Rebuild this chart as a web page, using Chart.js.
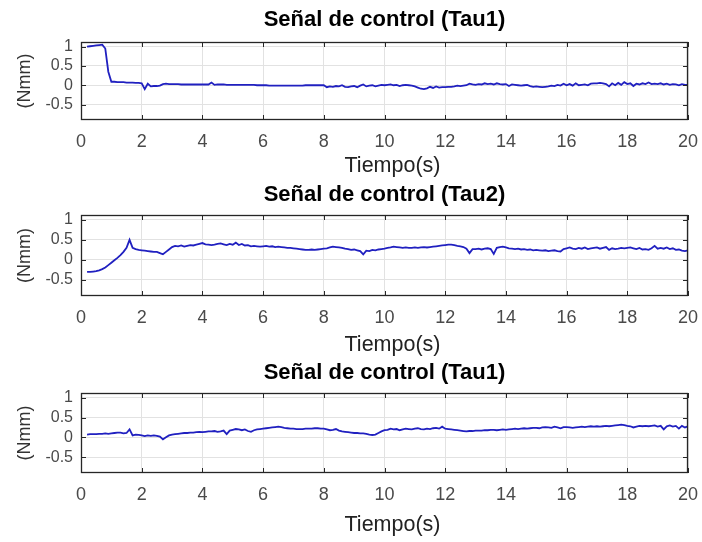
<!DOCTYPE html>
<html>
<head>
<meta charset="utf-8">
<script src="https://cdn.jsdelivr.net/npm/chart.js@4.4.1/dist/chart.umd.min.js"></script>
<style>
  html, body { margin: 0; padding: 0; background: #ffffff; }
  #wrap { position: relative; width: 702px; height: 542px; overflow: hidden; }
  .panel { position: absolute; left: 0; width: 702px; }
  .panel canvas { display: block; }
</style>
</head>
<body>
<div id="wrap">
  <div class="panel" style="top:0px;height:180px"><canvas id="c1" width="702" height="180"></canvas></div>
  <div class="panel" style="top:180px;height:180px"><canvas id="c2" width="702" height="180"></canvas></div>
  <div class="panel" style="top:360px;height:182px"><canvas id="c3" width="702" height="182"></canvas></div>
</div>
<script>
// Sampling: first sample at 0.2 s, one sample every 0.1 s up to 20 s
const T_START = 0.2;
const T_STEP = 0.1;

const xTicks = [0, 2, 4, 6, 8, 10, 12, 14, 16, 18, 20];
const yTicks = [-0.5, 0, 0.5, 1];

const titles = ['Señal de control (Tau1)', 'Señal de control (Tau2)', 'Señal de control (Tau1)'];
const xLabel = 'Tiempo(s)';
const yLabel = '(Nmm)';

// Control torque, joint 1 (Nmm)
const tau1 = [
  1.00, 1.01, 1.02, 1.03, 1.04, 1.05, 0.95, 0.35,
  0.09, 0.09, 0.08, 0.08, 0.08, 0.07, 0.07, 0.07, 0.06, 0.06,
  0.05, -0.10, 0.04, -0.03, -0.02, -0.02, -0.01, 0.03, 0.04, 0.03,
  0.03, 0.03, 0.03, 0.02, 0.02, 0.02, 0.02, 0.02, 0.02, 0.02,
  0.02, 0.02, 0.02, 0.07, 0.01, 0.02, 0.02, 0.02, 0.01, 0.01,
  0.01, 0.01, 0.01, 0.01, 0.01, 0.01, 0.01, 0.01, 0.00, 0.00,
  0.00, 0.00, -0.01, -0.01, -0.01, -0.01, -0.01, -0.01, -0.01, -0.01,
  -0.01, -0.01, -0.01, -0.01, 0.00, 0.00, 0.00, 0.00, 0.00, 0.00,
  0.00, -0.05, -0.03, -0.04, -0.02, -0.03, 0.00, -0.04, -0.05, -0.03,
  -0.02, -0.05, -0.01, 0.02, -0.03, -0.01, 0.00, -0.03, -0.01, 0.01,
  0.00, 0.01, 0.02, 0.00, 0.01, -0.02, 0.00, 0.01, 0.00, -0.01,
  -0.03, -0.06, -0.09, -0.10, -0.08, -0.04, -0.07, -0.03, -0.06, -0.05,
  -0.05, -0.04, -0.04, -0.03, -0.01, -0.02, -0.01, 0.00, 0.04, 0.02,
  0.01, 0.03, 0.02, 0.05, 0.03, 0.04, 0.02, 0.05, 0.03, 0.02,
  0.03, -0.02, 0.02, 0.01, 0.00, -0.01, 0.00, 0.01, -0.02, -0.04,
  -0.03, -0.04, -0.05, -0.04, -0.03, -0.01, -0.02, 0.01, -0.01, 0.04,
  0.00, 0.03, -0.01, 0.05, 0.00, 0.01, 0.02, 0.00, 0.04, 0.05,
  0.05, 0.06, 0.05, 0.03, -0.03, 0.05, 0.00, 0.06, 0.01, 0.08,
  0.03, 0.05, -0.02, 0.04, 0.02, 0.05, 0.03, 0.07, 0.03, 0.04,
  0.03, 0.05, 0.02, 0.04, 0.01, 0.03, 0.02, 0.00, 0.03, 0.01,
  0.01
];

// Control torque, joint 2 (Nmm)
const tau2 = [
  -0.30, -0.30, -0.29, -0.28, -0.26, -0.23, -0.19, -0.13,
  -0.07, -0.01, 0.05, 0.12, 0.20, 0.30, 0.50, 0.30, 0.27, 0.25,
  0.24, 0.23, 0.22, 0.21, 0.20, 0.20, 0.17, 0.14, 0.20, 0.26,
  0.32, 0.35, 0.34, 0.36, 0.33, 0.35, 0.37, 0.36, 0.38, 0.40,
  0.42, 0.39, 0.38, 0.37, 0.38, 0.40, 0.41, 0.39, 0.37, 0.40,
  0.38, 0.43, 0.37, 0.40, 0.36, 0.37, 0.34, 0.35, 0.34, 0.33,
  0.34, 0.35, 0.33, 0.34, 0.32, 0.33, 0.32, 0.31, 0.30, 0.30,
  0.29, 0.28, 0.27, 0.26, 0.25, 0.25, 0.26, 0.25, 0.26, 0.27,
  0.28, 0.29, 0.31, 0.33, 0.32, 0.31, 0.30, 0.28, 0.27, 0.25,
  0.26, 0.24, 0.22, 0.14, 0.23, 0.22, 0.25, 0.24, 0.26, 0.27,
  0.28, 0.30, 0.31, 0.33, 0.32, 0.31, 0.30, 0.31, 0.30, 0.30,
  0.31, 0.30, 0.31, 0.32, 0.31, 0.32, 0.33, 0.34, 0.35, 0.36,
  0.37, 0.38, 0.38, 0.37, 0.35, 0.34, 0.32, 0.28, 0.17, 0.27,
  0.27, 0.28, 0.26, 0.28, 0.29, 0.27, 0.15, 0.30, 0.32, 0.33,
  0.31, 0.29, 0.28, 0.27, 0.28, 0.26, 0.27, 0.25, 0.26, 0.24,
  0.25, 0.24, 0.23, 0.24, 0.22, 0.23, 0.24, 0.22, 0.21, 0.27,
  0.29, 0.31, 0.28, 0.27, 0.30, 0.28, 0.31, 0.27, 0.29, 0.30,
  0.31, 0.28, 0.30, 0.32, 0.25, 0.29, 0.27, 0.28, 0.30, 0.29,
  0.30, 0.31, 0.29, 0.27, 0.30, 0.26, 0.27, 0.25, 0.29, 0.35,
  0.28, 0.30, 0.28, 0.31, 0.27, 0.29, 0.25, 0.26, 0.23, 0.22,
  0.24
];

// Control torque, third panel (Nmm)
const tau3 = [
  0.07, 0.08, 0.08, 0.08, 0.09, 0.09, 0.10, 0.09,
  0.10, 0.11, 0.12, 0.12, 0.10, 0.11, 0.20, 0.05, 0.07, 0.06,
  0.05, 0.03, 0.05, 0.04, 0.05, 0.04, 0.02, -0.05, 0.00, 0.05,
  0.07, 0.08, 0.09, 0.10, 0.11, 0.11, 0.12, 0.12, 0.13, 0.14,
  0.13, 0.14, 0.15, 0.15, 0.16, 0.14, 0.15, 0.17, 0.08, 0.17,
  0.19, 0.21, 0.20, 0.18, 0.20, 0.16, 0.14, 0.18, 0.20, 0.21,
  0.22, 0.23, 0.24, 0.25, 0.26, 0.27, 0.26, 0.24, 0.23, 0.22,
  0.22, 0.21, 0.21, 0.21, 0.22, 0.22, 0.22, 0.23, 0.23, 0.22,
  0.22, 0.20, 0.18, 0.19, 0.21, 0.17, 0.15, 0.14, 0.13, 0.12,
  0.11, 0.11, 0.10, 0.10, 0.09, 0.07, 0.06, 0.07, 0.11, 0.15,
  0.18, 0.19, 0.22, 0.20, 0.21, 0.18, 0.20, 0.22, 0.21, 0.20,
  0.22, 0.23, 0.21, 0.20, 0.22, 0.21, 0.23, 0.24, 0.22, 0.27,
  0.22, 0.21, 0.20, 0.19, 0.18, 0.17, 0.16, 0.15, 0.16, 0.16,
  0.17, 0.17, 0.17, 0.18, 0.18, 0.19, 0.19, 0.18, 0.19, 0.20,
  0.19, 0.20, 0.21, 0.22, 0.21, 0.22, 0.23, 0.22, 0.23, 0.24,
  0.24, 0.23, 0.25, 0.26, 0.25, 0.24, 0.27, 0.25, 0.23, 0.26,
  0.26, 0.25, 0.24, 0.25, 0.26, 0.27, 0.26, 0.27, 0.28, 0.27,
  0.28, 0.27, 0.28, 0.29, 0.28, 0.29, 0.30, 0.31, 0.32, 0.31,
  0.29, 0.28, 0.25, 0.27, 0.29, 0.28, 0.29, 0.28, 0.29, 0.30,
  0.27, 0.29, 0.20, 0.28, 0.30, 0.27, 0.29, 0.22, 0.29, 0.25,
  0.28
];

const FONT = '"Liberation Sans", Arial, Helvetica, sans-serif';
Chart.defaults.font.family = FONT;

const LINE_COLOR = '#2020c0';
const GRID_COLOR = '#e2e2e2';
const AXIS_COLOR = '#262626';
const TICK_TEXT = '#4a4a4a';

// Box around each axes with inward tick marks on all four sides
const axesBox = {
  id: 'axesBox',
  afterDatasetsDraw(chart) {
    const { ctx, chartArea: a, scales: { x, y } } = chart;
    const len = 5;
    ctx.save();
    ctx.strokeStyle = AXIS_COLOR;
    ctx.lineWidth = 1;
    ctx.beginPath();
    x.ticks.forEach(t => {
      const px = Math.round(x.getPixelForValue(t.value)) + 0.5;
      ctx.moveTo(px, a.bottom); ctx.lineTo(px, a.bottom - len);
      ctx.moveTo(px, a.top); ctx.lineTo(px, a.top + len);
    });
    y.ticks.forEach(t => {
      const py = Math.round(y.getPixelForValue(t.value)) + 0.5;
      ctx.moveTo(a.left, py); ctx.lineTo(a.left + len, py);
      ctx.moveTo(a.right, py); ctx.lineTo(a.right - len, py);
    });
    ctx.stroke();
    ctx.lineWidth = 1.3;
    ctx.strokeRect(Math.round(a.left) + 0.5, Math.round(a.top) + 0.5,
                   Math.round(a.right - a.left) - 1, Math.round(a.bottom - a.top) - 1);
    ctx.restore();
  }
};

// Time-axis label, set a little right of the axes centre
const timeLabel = {
  id: 'timeLabel',
  afterDraw(chart, args, opts) {
    const { ctx, chartArea: a } = chart;
    ctx.save();
    ctx.font = '21.5px ' + FONT;
    ctx.fillStyle = '#222222';
    ctx.textAlign = 'center';
    ctx.textBaseline = 'middle';
    ctx.fillText(xLabel, (a.left + a.right) / 2 + opts.dx, chart.height - opts.fromBottom);
    ctx.restore();
  }
};

function points(values) {
  return values.map((v, i) => ({ x: +(T_START + T_STEP * i).toFixed(1), y: v }));
}

const panels = [
  { id: 'c1', series: tau1, title: titles[0], padTop: 7, padBottom: 8.6, xHeight: 60, labelFromBottom: 13.5 },
  { id: 'c2', series: tau2, title: titles[1], padTop: 2, padBottom: 6.6, xHeight: 64, labelFromBottom: 15 },
  { id: 'c3', series: tau3, title: titles[2], padTop: 0, padBottom: 6.6, xHeight: 69, labelFromBottom: 17 }
];

panels.forEach(p => {
  new Chart(document.getElementById(p.id), {
    type: 'line',
    data: {
      datasets: [{
        data: points(p.series),
        borderColor: LINE_COLOR,
        borderWidth: 1.8,
        pointRadius: 0,
        tension: 0,
        fill: false
      }]
    },
    options: {
      responsive: false,
      animation: false,
      events: [],
      layout: { padding: { left: 0, right: 14, top: 0, bottom: 0 } },
      plugins: {
        legend: { display: false },
        tooltip: { enabled: false },
        title: {
          display: true,
          fullSize: false,
          text: p.title,
          color: '#000000',
          font: { size: 22, weight: 'bold', lineHeight: 1.2 },
          padding: { top: p.padTop, bottom: p.padBottom }
        },
        timeLabel: { dx: 8, fromBottom: p.labelFromBottom }
      },
      scales: {
        x: {
          type: 'linear',
          min: 0,
          max: 20,
          afterBuildTicks(s) { s.ticks = xTicks.map(v => ({ value: v })); },
          afterFit(s) {
            s.height = p.xHeight;
            s.paddingLeft = 0;
            s.paddingRight = 0;
          },
          ticks: {
            autoSkip: false, maxRotation: 0, padding: 11,
            color: TICK_TEXT, font: { size: 18 },
            callback: v => String(v)
          },
          grid: { color: GRID_COLOR, lineWidth: 1, drawTicks: false },
          border: { display: false },
          title: { display: false }
        },
        y: {
          min: -0.9,
          max: 1.12,
          afterBuildTicks(s) { s.ticks = yTicks.map(v => ({ value: v })); },
          afterFit(s) { s.width = 81; },
          ticks: {
            padding: 8, color: TICK_TEXT, font: { size: 16 },
            callback: v => String(v)
          },
          grid: { color: GRID_COLOR, lineWidth: 1, drawTicks: false },
          border: { display: false },
          title: {
            display: true, text: yLabel, color: '#333333',
            font: { size: 18 }, padding: { top: 14, bottom: 0 }
          }
        }
      }
    },
    plugins: [axesBox, timeLabel]
  });
});
</script>
</body>
</html>
